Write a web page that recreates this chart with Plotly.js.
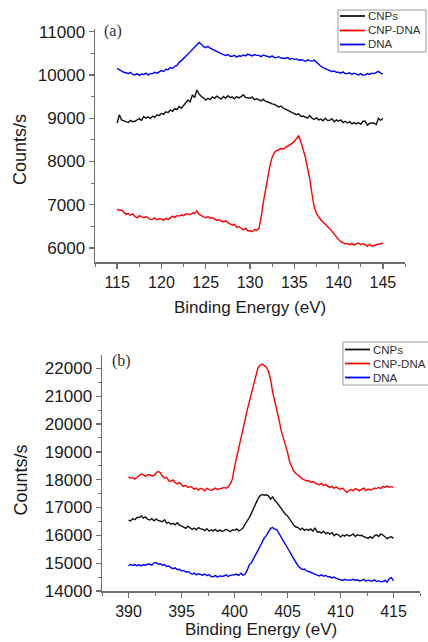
<!DOCTYPE html>
<html>
<head>
<meta charset="utf-8">
<script src="https://cdn.plot.ly/plotly-3.0.1.min.js"></script>
<style>html,body{margin:0;padding:0;background:#fff;}#chart{width:428px;height:642px;}</style>
</head>
<body>
<div id="chart"></div>
<script>
// ---- Panel (a): P 2p region, 115–145 eV, step 0.25 eV ----
const energyStartA = 115;
const energyStepA = 0.25;
const cnpsA = [
  8890, 9080, 8960, 8940,  8930, 8900, 8950, 8920,  8930, 8960, 8990, 8950,
  9040, 9000, 9030, 8990,  9050, 9020, 9080, 9060,  9110, 9090, 9150, 9130,
  9190, 9160, 9220, 9200,  9270, 9230, 9300, 9360,  9420, 9380, 9540, 9480,
  9650, 9560, 9500, 9470,  9420, 9460, 9430, 9490,  9460, 9510, 9470, 9440,
  9500, 9460, 9520, 9480,  9490, 9450, 9500, 9470,  9500, 9540, 9480, 9470,
  9460, 9490, 9430, 9450,  9420, 9400, 9440, 9390,  9380, 9350, 9330, 9320,
  9290, 9260, 9280, 9230,  9210, 9190, 9160, 9130,  9110, 9080, 9100, 9040,
  9050, 9030, 9000, 9060,  9000, 8970, 9010, 8960,  8980, 8940, 9000, 8950,
  8950, 8990, 8920, 8960,  8930, 8960, 8900, 8930,  8890, 8920, 8870, 8900,
  8870, 8900, 8860, 8930,  8930, 8840, 8880, 8890,  8890, 8850, 9000, 8950,
  9000
];
const cnpDnaA = [
  6900, 6870, 6880, 6830,  6780, 6800, 6760, 6790,  6730, 6700, 6750, 6720,
  6700, 6730, 6690, 6660,  6670, 6700, 6650, 6680,  6670, 6640, 6690, 6660,
  6700, 6740, 6710, 6750,  6740, 6770, 6750, 6790,  6790, 6770, 6810, 6800,
  6860, 6780, 6750, 6730,  6700, 6730, 6690, 6700,  6670, 6640, 6660, 6620,
  6610, 6630, 6590, 6560,  6530, 6550, 6480, 6500,  6450, 6420, 6460, 6400,
  6400, 6380, 6430, 6410,  6450, 6700, 7050, 7350,  7650, 7900, 8100, 8210,
  8250, 8270, 8300, 8290,  8320, 8350, 8380, 8420,  8470, 8520, 8590, 8450,
  8300, 8100, 7850, 7600,  7250, 6950, 6800, 6720,  6650, 6600, 6560, 6500,
  6450, 6380, 6330, 6260,  6200, 6150, 6120, 6100,  6100, 6080, 6110, 6070,
  6100, 6120, 6080, 6100,  6080, 6040, 6090, 6050,  6060, 6080, 6090, 6100,
  6120
];
const dnaA = [
  10150, 10120, 10080, 10060,  10050, 10030, 10060, 10010,  10000, 10030, 9990, 10020,
  10010, 10040, 10000, 10030,  10030, 10060, 10040, 10080,  10100, 10080, 10130, 10120,
  10170, 10150, 10200, 10220,  10290, 10330, 10370, 10430,  10480, 10530, 10590, 10640,
  10680, 10750, 10710, 10650,  10630, 10660, 10620, 10590,  10560, 10530, 10510, 10490,
  10470, 10450, 10470, 10430,  10430, 10450, 10410, 10440,  10430, 10460, 10440, 10480,
  10460, 10440, 10470, 10450,  10450, 10420, 10460, 10440,  10430, 10410, 10440, 10400,
  10400, 10420, 10390, 10380,  10380, 10400, 10360, 10380,  10360, 10370, 10340, 10350,
  10340, 10310, 10350, 10330,  10320, 10340, 10290, 10240,  10200, 10170, 10140, 10120,
  10100, 10080, 10090, 10060,  10060, 10040, 10070, 10030,  10030, 10050, 10010, 10040,
  10020, 10000, 10030, 9990,  10000, 10030, 10010, 10040,  10030, 10060, 10080, 10040,
  10020
];

// ---- Panel (b): N 1s region, 390–415 eV, step 0.2 eV ----
const energyStartB = 390;
const energyStepB = 0.2;
const cnpsB = [
  16550, 16520, 16600, 16560, 16640,  16640, 16700, 16620, 16660, 16580,
  16550, 16600, 16520, 16580, 16540,  16520, 16490, 16560, 16440, 16470,
  16400, 16430, 16380, 16450, 16370,  16340, 16300, 16250, 16330, 16280,
  16220, 16260, 16200, 16280, 16230,  16220, 16170, 16240, 16150, 16200,
  16160, 16210, 16140, 16190, 16150,  16160, 16220, 16180, 16130, 16200,
  16180, 16230, 16160, 16200, 16260,  16400, 16500, 16640, 16800, 16980,
  17120, 17300, 17420, 17470, 17440,  17460, 17420, 17300, 17380, 17250,
  17180, 17080, 16940, 16850, 16760,  16700, 16580, 16450, 16360, 16300,
  16280, 16200, 16260, 16180, 16220,  16180, 16230, 16150, 16270, 16120,
  16130, 16080, 16150, 16060, 16100,  16040, 16100, 15990, 16050, 16020,
  15940, 16010, 15970, 16030, 15980,  16000, 16050, 15960, 16020, 15990,
  16000, 15950, 15920, 15890, 15950,  15890, 15980, 16020, 15960, 16050,
  16010, 15960, 15880, 15930, 15950,  15890
];
const cnpDnaB = [
  18100, 18050, 18080, 18020, 18090,  18140, 18200, 18170, 18120, 18180,
  18180, 18130, 18150, 18230, 18300,  18250, 18120, 18050, 18080, 17960,
  17940, 17990, 17890, 17850, 17900,  17820, 17760, 17800, 17720, 17750,
  17720, 17660, 17700, 17630, 17690,  17660, 17600, 17690, 17640, 17610,
  17660, 17700, 17640, 17680, 17690,  17720, 17690, 17740, 17850, 18020,
  18450, 18810, 19110, 19530, 19830,  20130, 20500, 20800, 21100, 21400,
  21650, 22000, 22110, 22150, 22100,  22050, 21900, 21600, 21150, 20850,
  20500, 20150, 19770, 19530, 19290,  18990, 18630, 18440, 18300, 18220,
  18150, 18100, 18030, 17990, 17960,  17960, 17900, 17930, 17870, 17840,
  17820, 17870, 17790, 17830, 17760,  17720, 17760, 17690, 17740, 17680,
  17660, 17700, 17620, 17540, 17620,  17650, 17600, 17680, 17640, 17600,
  17660, 17700, 17610, 17660, 17630,  17650, 17700, 17680, 17720, 17680,
  17760, 17720, 17780, 17730, 17750,  17720
];
const dnaB = [
  14900, 14960, 14920, 14950, 14910,  14940, 14900, 14950, 14920, 14970,
  14960, 14930, 15010, 15020, 14970,  14980, 14930, 14950, 14880, 14900,
  14840, 14800, 14830, 14770, 14780,  14720, 14740, 14680, 14700, 14640,
  14600, 14640, 14580, 14620, 14600,  14570, 14610, 14550, 14590, 14520,
  14510, 14560, 14500, 14540, 14530,  14540, 14580, 14520, 14560, 14570,
  14570, 14600, 14560, 14640, 14570,  14600, 14750, 14950, 15020, 15150,
  15300, 15450, 15600, 15780, 15900,  15990, 16120, 16250, 16280, 16220,
  16200, 16050, 15950, 15800, 15680,  15570, 15420, 15280, 15150, 15000,
  14900, 14830, 14770, 14790, 14720,  14700, 14660, 14620, 14600, 14570,
  14540, 14580, 14530, 14560, 14510,  14510, 14470, 14500, 14450, 14430,
  14420, 14380, 14420, 14390, 14400,  14390, 14420, 14380, 14400, 14360,
  14380, 14420, 14350, 14390, 14370,  14360, 14400, 14340, 14370, 14330,
  14340, 14380, 14320, 14450, 14480,  14360
];

const seriesNames = ["CNPs", "CNP-DNA", "DNA"];
const seriesColors = ["#111111", "#ff0000", "#0000ff"];
const xTitle = "Binding Energy (eV)";
const yTitle = "Counts/s";
const panelLabels = ["(a)", "(b)"];

const W = 428, H = 642;
const px = v => v / W;
const py = v => 1 - v / H;

const sans = "Liberation Sans, Arial, sans-serif";
const serif = "Liberation Serif, Times New Roman, serif";

function mk(name, color, y, x0, dx, xa, ya) {
  return {type: "scatter", mode: "lines", name, y, x0, dx, xaxis: xa, yaxis: ya,
          line: {color, width: 1.4}, showlegend: false, hoverinfo: "skip"};
}
const traces = [
  mk(seriesNames[0], seriesColors[0], cnpsA, energyStartA, energyStepA, "x", "y"),
  mk(seriesNames[1], seriesColors[1], cnpDnaA, energyStartA, energyStepA, "x", "y"),
  mk(seriesNames[2], seriesColors[2], dnaA, energyStartA, energyStepA, "x", "y"),
  mk(seriesNames[0], seriesColors[0], cnpsB, energyStartB, energyStepB, "x2", "y2"),
  mk(seriesNames[1], seriesColors[1], cnpDnaB, energyStartB, energyStepB, "x2", "y2"),
  mk(seriesNames[2], seriesColors[2], dnaB, energyStartB, energyStepB, "x2", "y2")
];

const axisCommon = {
  showgrid: false, zeroline: false, showline: true, linecolor: "#6e6e6e", linewidth: 1.5,
  ticks: "outside", ticklen: 5, tickwidth: 1.3, tickcolor: "#6e6e6e",
  mirror: false, fixedrange: true
};
const layout = {
  width: W, height: H,
  margin: {l: 0, r: 0, t: 0, b: 0},
  paper_bgcolor: "#ffffff", plot_bgcolor: "#ffffff",
  showlegend: false,
  xaxis: Object.assign({}, axisCommon, {
    domain: [px(95), px(405)], anchor: "y", range: [112.5, 147.5],
    dtick: 5, tick0: 115, tickfont: {family: sans, size: 16, color: "#1a1a1a"},
    minor: {ticks: "outside", ticklen: 3, dtick: 2.5, tick0: 115, tickcolor: "#6e6e6e", tickwidth: 1}
  }),
  yaxis: Object.assign({}, axisCommon, {
    domain: [py(262), py(29)], anchor: "x", range: [5680, 11060],
    dtick: 1000, tick0: 6000, tickformat: "d", tickfont: {family: sans, size: 17, color: "#1a1a1a"},
    minor: {ticks: "outside", ticklen: 3, dtick: 500, tick0: 6000, tickcolor: "#6e6e6e", tickwidth: 1}
  }),
  xaxis2: Object.assign({}, axisCommon, {
    domain: [px(102), px(420)], anchor: "y2", range: [387.5, 417.5],
    dtick: 5, tick0: 390, tickfont: {family: sans, size: 16, color: "#1a1a1a"},
    minor: {ticks: "outside", ticklen: 3, dtick: 2.5, tick0: 390, tickcolor: "#6e6e6e", tickwidth: 1}
  }),
  yaxis2: Object.assign({}, axisCommon, {
    domain: [py(591), py(355)], anchor: "x2", range: [14000, 22480],
    dtick: 1000, tick0: 14000, tickformat: "d", tickfont: {family: sans, size: 17, color: "#1a1a1a"},
    minor: {ticks: "outside", ticklen: 3, dtick: 500, tick0: 14000, tickcolor: "#6e6e6e", tickwidth: 1}
  }),
  annotations: [],
  shapes: []
};

function addText(text, x, y, opts) {
  layout.annotations.push(Object.assign({
    text, x: px(x), y: py(y), xref: "paper", yref: "paper", showarrow: false,
    xanchor: "center", yanchor: "middle", font: {family: sans, size: 17, color: "#1a1a1a"}
  }, opts || {}));
}
// axis titles
addText(xTitle, 250, 307);
addText(xTitle, 261, 629);
addText(yTitle, 20, 150, {textangle: -90, font: {family: sans, size: 18, color: "#1a1a1a"}});
addText(yTitle, 20.5, 480, {textangle: -90, font: {family: sans, size: 18, color: "#1a1a1a"}});
// panel labels
addText(panelLabels[0], 113, 31, {font: {family: serif, size: 16, color: "#333"}});
addText(panelLabels[1], 122, 361, {font: {family: serif, size: 16, color: "#333"}});

// legends (drawn as shapes + text)
function legendBox(x0, x1, y0, y1, lx0, lx1, tx, rows) {
  layout.shapes.push({type: "rect", xref: "paper", yref: "paper",
    x0: px(x0), x1: px(x1), y0: py(y1), y1: py(y0), line: {color: "#9a9a9a", width: 1}, fillcolor: "rgba(0,0,0,0)"});
  seriesNames.forEach((n, i) => {
    layout.shapes.push({type: "line", xref: "paper", yref: "paper",
      x0: px(lx0), x1: px(lx1), y0: py(rows[i]), y1: py(rows[i]),
      line: {color: seriesColors[i], width: 1.8}});
    addText(n, tx, rows[i], {xanchor: "left", font: {family: sans, size: 11.5, color: "#333"}});
  });
}
legendBox(338, 426, 10, 52, 340, 365, 366, [16, 30.5, 44.5]);
legendBox(343, 432, 342, 385, 345, 370, 371, [349.5, 363.5, 377.5]);

Plotly.newPlot("chart", traces, layout, {staticPlot: true, displayModeBar: false});
</script>
</body>
</html>
